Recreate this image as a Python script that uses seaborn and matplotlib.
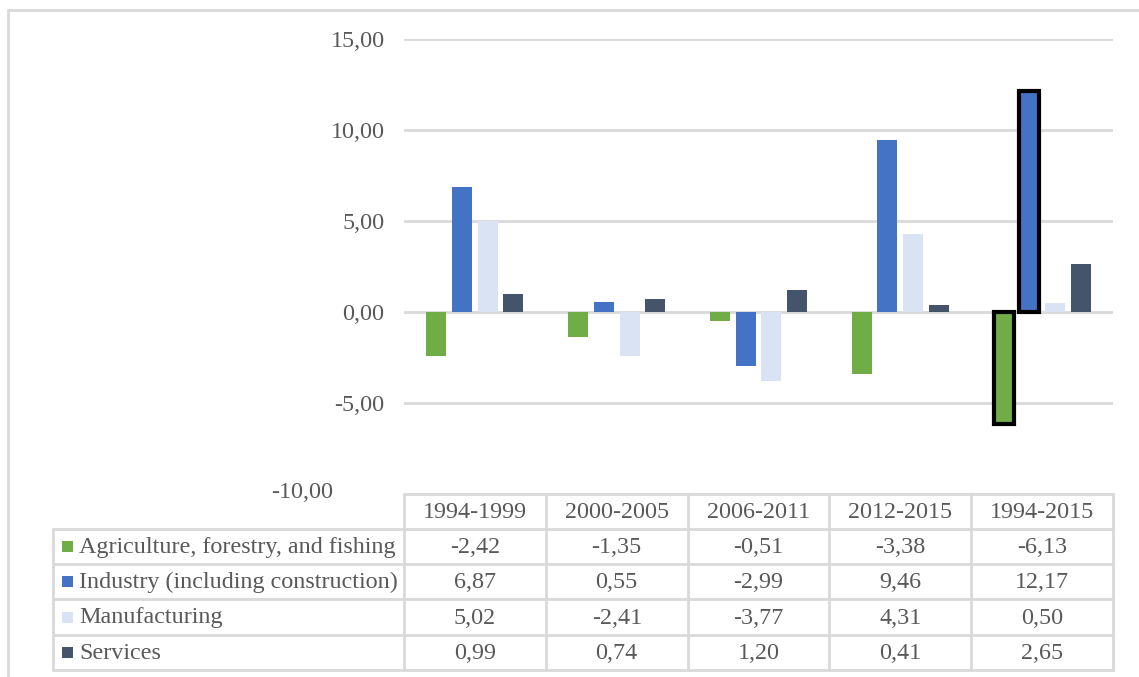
import matplotlib
matplotlib.use("Agg")
import matplotlib.pyplot as plt
import seaborn as sns
import pandas as pd
from matplotlib.patches import Rectangle
from matplotlib.lines import Line2D

periods = ["1994-1999", "2000-2005", "2006-2011", "2012-2015", "1994-2015"]
sectors = ["Agriculture, forestry, and fishing", "Industry (including construction)",
           "Manufacturing", "Services"]
agriculture = [-2.42, -1.35, -0.51, -3.38, -6.13]
industry = [6.87, 0.55, -2.99, 9.46, 12.17]
manufacturing = [5.02, -2.41, -3.77, 4.31, 0.50]
services = [0.99, 0.74, 1.20, 0.41, 2.65]
yticks = [-10, -5, 0, 5, 10, 15]
colors = ["#70AD47", "#4472C4", "#DAE3F3", "#44546A"]

series = [agriculture, industry, manufacturing, services]
rows = []
for s, vals in zip(sectors, series):
    for p, v in zip(periods, vals):
        rows.append({"period": p, "sector": s, "value": v})
df = pd.DataFrame(rows)

sns.set_theme(style="white")
plt.rcParams['font.family'] = ['Liberation Serif', 'DejaVu Serif']
TXT = "#595959"
GRID = "#D9D9D9"
FS = 17.4

W, H = 1139, 677
fig = plt.figure(figsize=(W / 100, H / 100), dpi=100)

# plot area in pixels
L, R, T, B = 404, 1113, 39, 494
ax = fig.add_axes([L / W, 1 - B / H, (R - L) / W, (B - T) / H])
sns.barplot(data=df, x="period", y="value", hue="sector", order=periods,
            hue_order=sectors, palette=colors, width=0.725, gap=0.22,
            saturation=1, legend=False, ax=ax, zorder=3, linewidth=0)
ax.set_xlim(-0.5, len(periods) - 0.5)
ax.set_ylim(-10, 15)
ax.set_yticks(yticks)
for y in yticks[1:]:
    ax.axhline(y, color=GRID, lw=2, zorder=1)
ax.set_yticklabels([("%.2f" % v).replace(".", ",") if v != -10 else "" for v in yticks],
                   fontsize=FS, color=TXT)
ax.tick_params(axis="y", length=0, pad=14)
ax.set_xticks([])
ax.set_xlabel("")
ax.set_ylabel("")
for sp in ax.spines.values():
    sp.set_visible(False)

# highlighted bars in the last group
for ci in (0, 1):
    bar = ax.containers[ci].patches[len(periods) - 1]
    bar.set_edgecolor("black")
    bar.set_linewidth(3)
    bar.set_zorder(4)

# overlay axes in pixel coordinates for the data table and frame
ov = fig.add_axes([0, 0, 1, 1], zorder=5)
ov.set_xlim(0, W)
ov.set_ylim(H, 0)
ov.axis("off")
ov.patch.set_alpha(0)

# outer chart frame
ov.add_line(Line2D([8, 8], [10, H], color=GRID, lw=2))
ov.add_line(Line2D([8, W], [10, 10], color=GRID, lw=2))

ov.text(333, 492, ("%.2f" % yticks[0]).replace(".", ","), fontsize=FS, color=TXT,
        ha="right", va="center")

col_w = (R - L) / len(periods)
xs = [L + i * col_w for i in range(len(periods) + 1)]
head_top, row_top, row_h = 494, 529, 35.2
row_ys = [row_top + i * row_h for i in range(len(sectors) + 1)]
LAB_L = 53

# grid lines of table
ov.add_line(Line2D([L, R], [head_top, head_top], color=GRID, lw=2))
for y in row_ys:
    ov.add_line(Line2D([LAB_L, R], [y, y], color=GRID, lw=2))
ov.add_line(Line2D([LAB_L, LAB_L], [row_top, row_ys[-1]], color=GRID, lw=2))
for x in xs:
    ov.add_line(Line2D([x, x], [head_top, row_ys[-1]], color=GRID, lw=2))

for i, p in enumerate(periods):
    ov.text((xs[i] + xs[i + 1]) / 2, (head_top + row_top) / 2 + 1, p, fontsize=FS,
            color=TXT, ha="center", va="center")

for r, (s, vals, c) in enumerate(zip(sectors, series, colors)):
    yc = (row_ys[r] + row_ys[r + 1]) / 2
    ov.add_patch(Rectangle((62, yc - 5.5), 11, 11, facecolor=c, edgecolor="none"))
    ov.text(79, yc + 1, s, fontsize=FS, color=TXT, ha="left", va="center")
    for i, v in enumerate(vals):
        ov.text((xs[i] + xs[i + 1]) / 2, yc + 1, ("%.2f" % v).replace(".", ","),
                fontsize=FS, color=TXT, ha="center", va="center")

fig.savefig("out.png", dpi=100, facecolor="white")
